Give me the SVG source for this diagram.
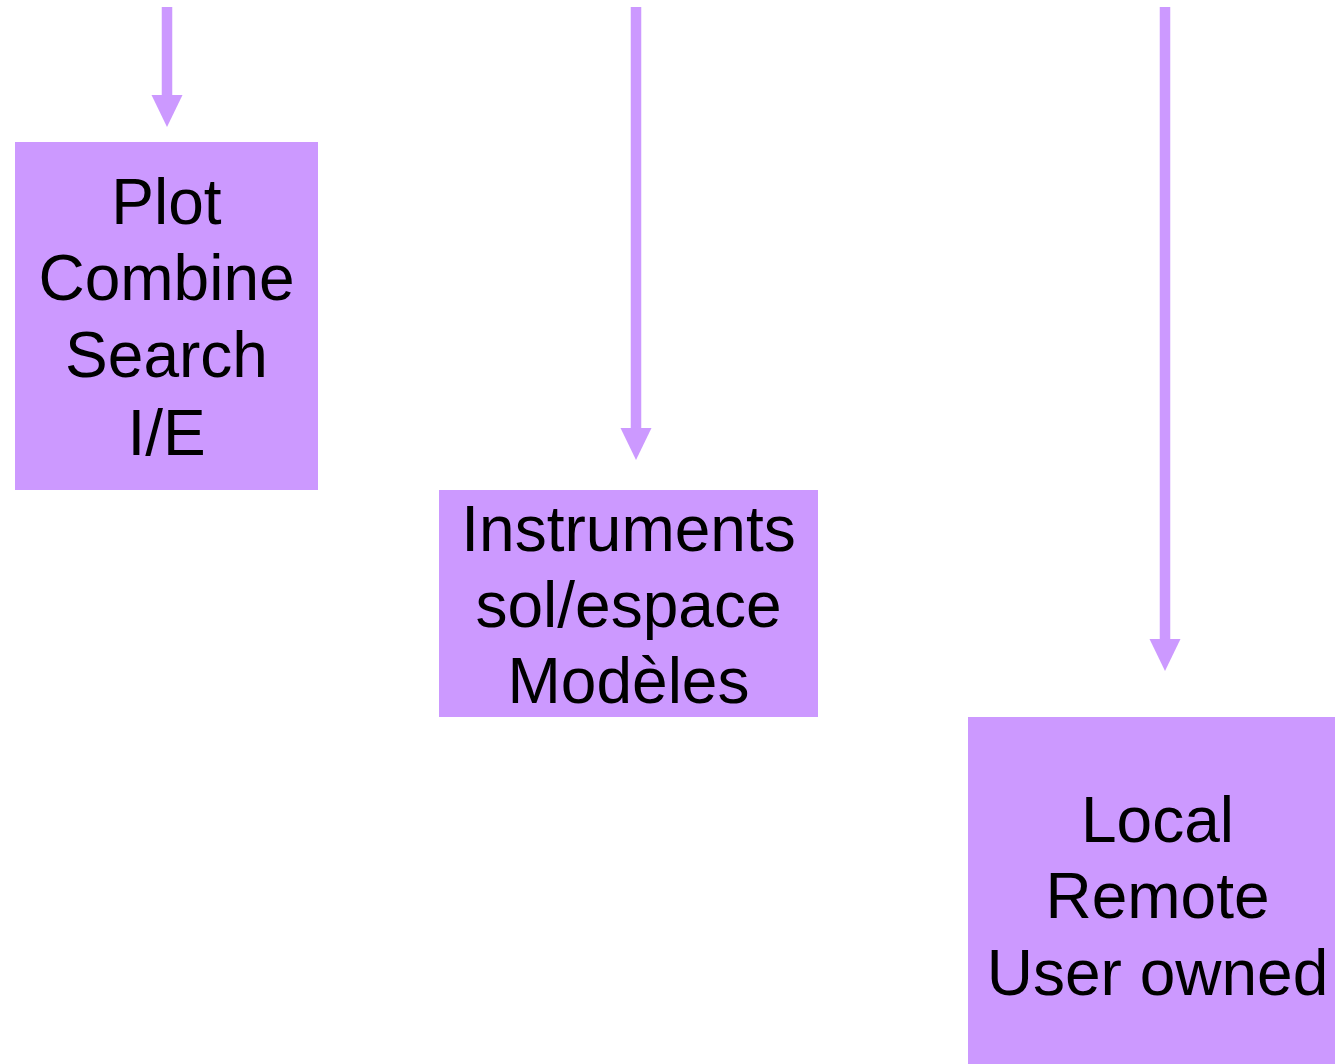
<svg xmlns="http://www.w3.org/2000/svg" width="1335" height="1064" viewBox="0 0 1335 1064">
<style>
.box{fill:#CC99FF;stroke:none}
.lbl{font-family:"Liberation Sans",Arial,sans-serif;font-size:64px;fill:#000;text-anchor:middle}
.shaft{stroke:#CC99FF;stroke-width:10.5;fill:none}
.head{fill:#CC99FF}
</style>
<rect width="1335" height="1064" fill="#fff"/>
<g id="connectors">
<line class="shaft" x1="167" y1="7" x2="167" y2="97"/>
<polygon class="head" points="151.5,95 182.5,95 167,127"/>
<line class="shaft" x1="636" y1="7" x2="636" y2="430"/>
<polygon class="head" points="620.5,428 651.5,428 636,460"/>
<line class="shaft" x1="1165" y1="7" x2="1165" y2="641"/>
<polygon class="head" points="1149.5,639 1180.5,639 1165,671"/>
</g>
<g id="node-plot">
<rect class="box" x="15" y="142" width="303" height="348"/>
<text class="lbl" x="166.5" y="224">Plot</text>
<text class="lbl" x="166.5" y="300">Combine</text>
<text class="lbl" x="166.5" y="377">Search</text>
<text class="lbl" x="166.5" y="455">I/E</text>
</g>
<g id="node-instruments">
<rect class="box" x="439" y="490" width="379" height="227"/>
<text class="lbl" x="628.5" y="551">Instruments</text>
<text class="lbl" x="628.5" y="627">sol/espace</text>
<text class="lbl" x="628.5" y="703">Modèles</text>
</g>
<g id="node-local">
<rect class="box" x="968" y="717" width="367" height="347"/>
<text class="lbl" x="1157.5" y="842">Local</text>
<text class="lbl" x="1157.5" y="918">Remote</text>
<text class="lbl" x="1157.5" y="995">User owned</text>
</g>
</svg>
